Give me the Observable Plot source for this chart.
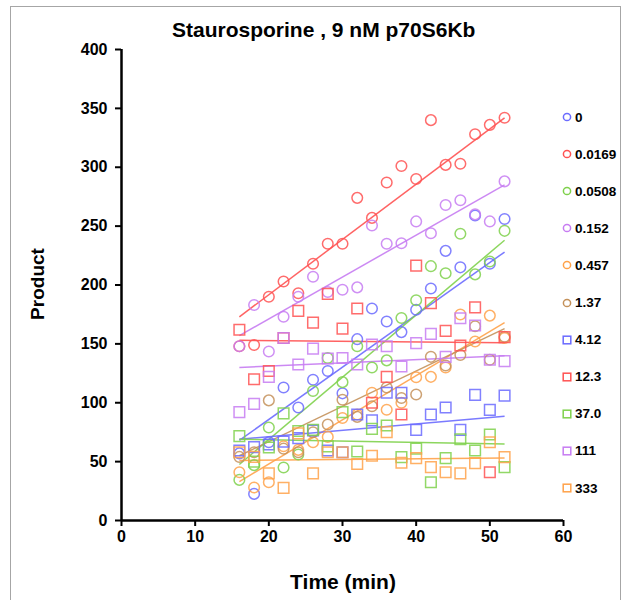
<!DOCTYPE html>
<html><head><meta charset="utf-8">
<script src="https://cdn.jsdelivr.net/npm/d3@7"></script>
<script src="https://cdn.jsdelivr.net/npm/@observablehq/plot@0.6"></script>
<style>
body{margin:0;background:#fff;font-family:Arial,"Liberation Sans",sans-serif;}
#wrap{position:relative;width:626px;height:600px;overflow:hidden;background:#fff;}
#frame{position:absolute;left:10px;top:6px;width:611px;height:700px;border:1px solid #a6a6a6;box-sizing:border-box;}
#chart{position:absolute;left:0;top:0;}
.t{position:absolute;font-weight:bold;color:#000;white-space:nowrap;}
#title{left:172px;top:18px;font-size:21px;}
#ylab{left:38px;top:284px;font-size:19px;transform:translate(-50%,-50%) rotate(-90deg);}
#xlab{left:343px;top:582px;font-size:21px;transform:translate(-50%,-50%);}
#legend{position:absolute;left:562px;top:0;}
.li{position:absolute;left:0;height:14px;display:flex;align-items:center;font-weight:bold;font-size:13.5px;white-space:nowrap;}
.li svg{margin-right:3px;}
</style>
</head><body>
<div id="wrap">
<div id="frame"></div>
<div id="chart"></div>
<div class="t" id="title">Staurosporine , 9 nM p70S6Kb</div>
<div class="t" id="ylab">Product</div>
<div class="t" id="xlab">Time (min)</div>
<div id="legend"></div>
</div>
<script>
const times = [16,18,20,22,24,26,28,30,32,34,36,38,40,42,44,46,48,50,52];
const seriesNames = ["0","0.0169","0.0508","0.152","0.457","1.37","4.12","12.3","37.0","111","333"];
const seriesSymbols = ["circle","circle","circle","circle","circle","circle","square","square","square","square","square"];
const seriesColors = ["#6b6bff","#ff5252","#7fd14c","#c77cf2","#ffa24a","#c4915a","#6b6bff","#ff5252","#7fd14c","#c77cf2","#ffa24a"];

const v0     = [57,22.6,66.5,113,96,119.5,127,108,154,180,169,160,179,197,229,215,259,218,256];
const v0169  = [148,149,190,203,193,218,235,235,274,257,287,301,290,340,302,303,328,336,342];
const v0508  = [34.5,47,79,45,56,110,138,117.5,148,130,136,172,187,216,210,243.5,209,220,246];
const v152   = [148,183,143.5,173,190,207,194,196,198,250.5,235,235.5,254,244,268,272,260,254,288];
const v457   = [41,28,32.5,63,60,66.5,71,87,90,108.5,94,100,121.7,122,130,175,152,174,155];
const v137   = [54,58,102,61,58,75,81.5,102.5,88,97,113,104,107,139,131.6,140.5,165,136.5,156];
const v412   = [59.4,62.3,64.5,67,70,76.4,59.4,58,90,85,108.5,108.5,77,90,96,77,106.7,94,106];
const v123   = [162,120,127,155,178,168,192.5,163,180,100,122,90,216.5,184.6,161,148.6,181,41,155.7];
const v370   = [71.6,50,62,91,76,77,63,92,58.6,77.8,80.7,53.8,61,32.5,53,69,59.4,73,45.3];
const v111   = [92,99,122,155,132.5,146,137.6,138,132.5,149.5,148,130.8,150.6,158.5,139,171.8,165.6,136.5,135.3];
const v333   = [58,54,40,27.7,74,40,58,58,48,55,75,49,53,45.3,41,40,48.7,66.5,53.8];
const seriesValues = [v0,v0169,v0508,v152,v457,v137,v412,v123,v370,v111,v333];

// fitted straight lines: value at first and last time
const fitStart = [68,173,47.6,157,33,55,69,153,69,130,51];
const fitEnd   = [228,342,238,285,168,163,88.6,151,65,140,53];

const xTicks = [0,10,20,30,40,50,60];
const yTicks = [0,50,100,150,200,250,300,350,400];

const points = [];
seriesNames.forEach((s,i)=>{
  seriesValues[i].forEach((v,j)=>points.push({series:s, symbol:seriesSymbols[i], t:times[j], v}));
});
const fits = seriesNames.map((s,i)=>({series:s, t1:times[0], t2:times[times.length-1], y1:fitStart[i], y2:fitEnd[i]}));

const chart = Plot.plot({
  width: 626, height: 600,
  marginLeft: 121, marginRight: 63, marginTop: 49, marginBottom: 80,
  style: {fontFamily: "Arial, 'Liberation Sans', sans-serif", fontSize: "16px", fontWeight: "bold", color:"#000", background:"transparent"},
  x: {domain: [0,60]},
  y: {domain: [0,400]},
  color: {domain: seriesNames, range: seriesColors},
  marks: [
    Plot.link(fits, {x1:"t1", x2:"t2", y1:"y1", y2:"y2", stroke:"series", strokeWidth:1.5, strokeOpacity:0.9}),
    Plot.dot(points.filter(d=>d.symbol==="circle"), {x:"t", y:"v", stroke:"series", symbol:"circle", r:5.3, strokeWidth:1.5, strokeOpacity:0.85, fill:"none"}),
    Plot.dot(points.filter(d=>d.symbol==="square"), {x:"t", y:"v", stroke:"series", symbol:"square", r:6.0, strokeWidth:1.5, strokeOpacity:0.85, fill:"none"}),
    Plot.axisY({ticks: yTicks, tickSize: 6, tickPadding: 8, label: null, strokeWidth: 2, fontSize: 16, fontWeight: "bold"}),
    Plot.axisX({ticks: xTicks, tickSize: 6, tickPadding: 4, label: null, strokeWidth: 2, fontSize: 16, fontWeight: "bold"}),
    Plot.ruleX([0], {strokeWidth: 2.5}),
    Plot.ruleY([0], {strokeWidth: 2.5})
  ]
});
document.getElementById("chart").appendChild(chart);

const legend = document.getElementById("legend");
seriesNames.forEach((s,i)=>{
  const row = document.createElement("div");
  row.className = "li";
  row.style.top = (117 + i*37.1 - 7) + "px";
  const mk = seriesSymbols[i]==="circle"
    ? `<circle cx="5" cy="5" r="3.6" fill="none" stroke="${seriesColors[i]}" stroke-width="1.5"/>`
    : `<rect x="1.2" y="1.2" width="7.6" height="7.6" fill="none" stroke="${seriesColors[i]}" stroke-width="1.5"/>`;
  row.innerHTML = `<svg width="10" height="10">${mk}</svg><span>${s}</span>`;
  legend.appendChild(row);
});
</script>
</body></html>
